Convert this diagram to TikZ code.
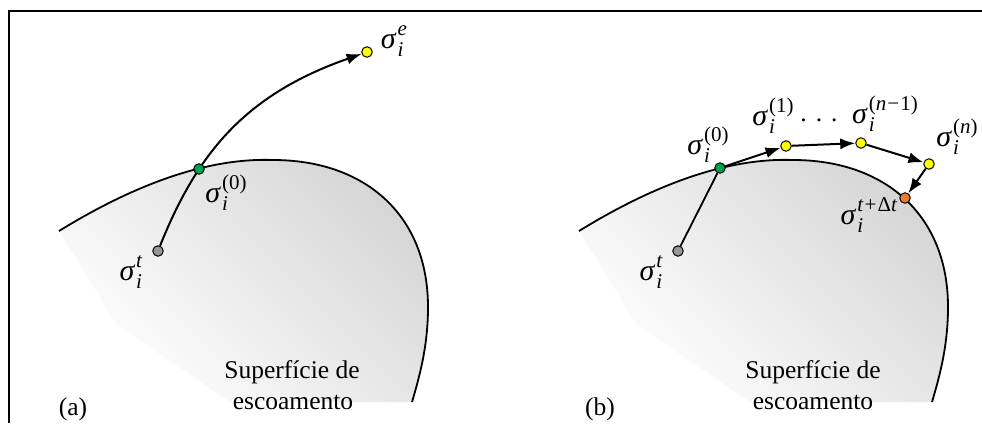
\documentclass[tikz,border=0pt]{standalone}
\usepackage{fontspec}
\setmainfont{Liberation Serif}
\usetikzlibrary{arrows.meta}
\pgfdeclarelayer{background}
\pgfsetlayers{background,main}
\definecolor{ptgreen}{RGB}{0,160,80}
\definecolor{ptyellow}{RGB}{255,255,0}
\definecolor{ptorange}{RGB}{237,125,49}
\definecolor{ptgray}{RGB}{150,150,150}
\newcommand{\scr}{\fontsize{21}{21}\selectfont}
\newcommand{\sigl}[1]{\textit{σ}\kern1pt\rlap{\raisebox{-8pt}{\scr\textit{i}}}\raisebox{13pt}{\scr #1}}
\tikzset{
  pt/.style={circle, draw=black, line width=1pt, minimum size=10.5pt, inner sep=0pt},
  lbl/.style={inner sep=0pt, font=\fontsize{30}{33}\selectfont},
  txt/.style={inner sep=0pt, font=\fontsize{25.5}{28}\selectfont},
  curve/.style={line width=1.8pt},
  arr/.style={line width=2pt, -{Latex[length=15pt,width=11pt]}},
  frame/.style={line width=1.5pt},
}
\newcommand{\surfshape}{(59,231) .. controls (150,175) and (220,158) .. (273,160)
  .. controls (365,160) and (428,215) .. (428,307)
  .. controls (428,345) and (420,375) .. (412,402)}
\begin{document}
\begin{tikzpicture}[x=1pt,y=-1pt]
\useasboundingbox (0,0) rectangle (982,423);
% frame
\draw[frame] (9,423) -- (9,11) -- (982,11);

% ---------- panel (a) ----------
\node[pt, fill=ptgray]   (tL) at (158,251) {};
\node[pt, fill=ptgreen]  (zL) at (199,169) {};
\node[pt, fill=ptyellow] (eL) at (367,52) {};
\node[lbl] (ltL) at (131,272) {\sigl{\textit{t}}};
\node[lbl] (lzL) at (226,193) {\sigl{(0)}};
\node[lbl] (leL) at (394,41) {\sigl{\textit{e}}};
\node[txt] (capA) at (73,409) {(a)};
\node[txt] (s1A) at (292,372) {Superfície de};
\node[txt] (s2A) at (293,402) {escoamento};

% ---------- panel (b) ----------
\node[pt, fill=ptgray]   (tR) at (678,251) {};
\node[pt, fill=ptgreen]  (zR) at (720,168) {};
\node[pt, fill=ptyellow] (y1) at (786,146) {};
\node[pt, fill=ptyellow] (y2) at (861,143) {};
\node[pt, fill=ptyellow] (y3) at (929,164) {};
\node[pt, fill=ptorange] (oR) at (905,198) {};
\node[lbl] (ltR) at (651,272) {\sigl{\textit{t}}};
\node[lbl] (lzR) at (708,145) {\sigl{(0)}};
\node[lbl] (l1R) at (773,116) {\sigl{(1)}};
\node[txt, anchor=base] (dots) at (819,121) {.\hspace{9pt}.\hspace{9pt}.};
\node[lbl] (l2R) at (885,114) {\sigl{(\textit{n}\kern1pt−\kern1pt1)}};
\node[lbl] (l3R) at (957,137) {\sigl{(\textit{n})}};
\node[lbl] (loR) at (869,215) {\sigl{\textit{t}\kern1pt+\kern1ptΔ\textit{t}}};
\node[txt] (capB) at (600,409) {(b)};
\node[txt] (s1B) at (813,372) {Superfície de};
\node[txt] (s2B) at (813,402) {escoamento};

\begin{pgfonlayer}{background}
  \foreach \dx in {0,520} {
    \begin{scope}[shift={(\dx,0)}]
      \shade[top color=black!16, middle color=black!5, bottom color=white, shading angle=-45]
        \surfshape -- (230,402) -- (117,325) -- cycle;
      \draw[curve] \surfshape;
    \end{scope}
  }
  \draw[arr] (tL) .. controls (198,151) and (247,94) .. (eL);
  \draw[curve] (tR) -- (zR);
  \draw[arr] (zR) -- (y1);
  \draw[arr] (y1) -- (y2);
  \draw[arr] (y2) -- (y3);
  \draw[arr] (y3) -- (oR);
\end{pgfonlayer}
\end{tikzpicture}
\end{document}
